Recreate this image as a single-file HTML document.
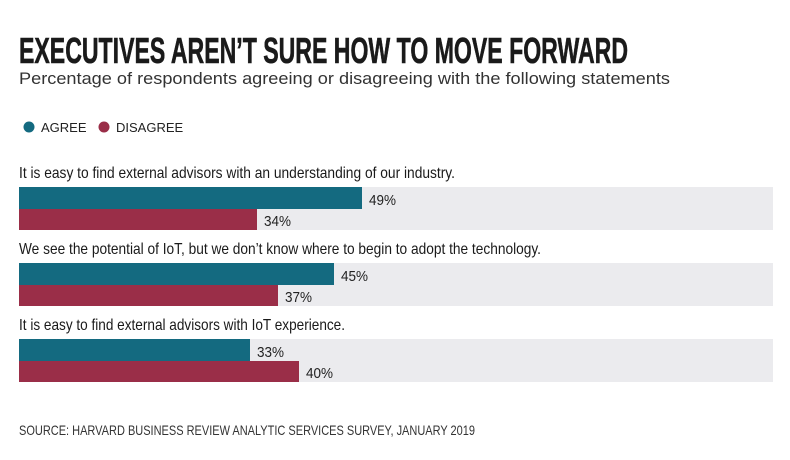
<!DOCTYPE html>
<html><head><meta charset="utf-8"><style>
html,body{margin:0;padding:0;background:#fff;}
svg{display:block;}
text{font-family:"Liberation Sans Narrow","Liberation Sans",sans-serif;}
</style></head><body>
<svg id="chart" width="790" height="460" viewBox="0 0 790 460">
<text x="19" y="63" font-size="36" font-weight="bold" fill="#1a1a1a" stroke="#1a1a1a" stroke-width="0.6" textLength="609" lengthAdjust="spacingAndGlyphs">EXECUTIVES AREN’T SURE HOW TO MOVE FORWARD</text>
<text x="19" y="84" font-size="17" fill="#333" style="font-family:'Liberation Sans',sans-serif" textLength="651" lengthAdjust="spacingAndGlyphs">Percentage of respondents agreeing or disagreeing with the following statements</text>
<g>
<circle cx="29" cy="127" r="5.5" fill="#146a80"/>
<text x="41" y="132" font-size="13" fill="#222" style="font-family:'Liberation Sans',sans-serif">AGREE</text>
<circle cx="104" cy="127" r="5.5" fill="#9a2e48"/>
<text x="116" y="132" font-size="13" fill="#222" style="font-family:'Liberation Sans',sans-serif">DISAGREE</text>
</g>
<g id="bars"></g>
<text x="19" y="435" font-size="14" fill="#333" textLength="456" lengthAdjust="spacingAndGlyphs">SOURCE: HARVARD BUSINESS REVIEW ANALYTIC SERVICES SURVEY, JANUARY 2019</text>
</svg>
<script>
const statements = ["It is easy to find external advisors with an understanding of our industry.","We see the potential of IoT, but we don’t know where to begin to adopt the technology.","It is easy to find external advisors with IoT experience."];
const agreeValues = [49, 45, 33];
const disagreeValues = [34, 37, 40];
const statementWidths = [436, 522, 326];

const NS = "http://www.w3.org/2000/svg";
const x0 = 19, pxPer = 7, trackEnd = 773;
const xScale = v => v * pxPer;
const groupY = i => 187 + i * 76;
const g = document.getElementById('bars');
function mk(tag, attrs){const e=document.createElementNS(NS,tag);for(const k in attrs)e.setAttribute(k,attrs[k]);g.appendChild(e);return e;}
statements.forEach((s,i)=>{
  const y = groupY(i);
  const t = mk('text',{x:x0,y:y-9,'font-size':16,fill:'#1a1a1a',textLength:statementWidths[i],lengthAdjust:'spacingAndGlyphs'});
  t.textContent = s;
  
  
  const tr = mk('rect',{x:x0,y:y,width:trackEnd-x0,height:43,fill:'#ebebee'});
  
  
  const a = mk('rect',{x:x0,y:y,width:xScale(agreeValues[i]),height:22,fill:'#146a80'});
  
  
  const d = mk('rect',{x:x0,y:y+22,width:xScale(disagreeValues[i]),height:21,fill:'#9a2e48'});
  
  
  const la = mk('text',{x:x0+xScale(agreeValues[i])+7,y:y+18,'font-size':15,fill:'#222',textLength:27,lengthAdjust:'spacingAndGlyphs'});
  la.textContent = agreeValues[i]+'%';
  
  
  const ld = mk('text',{x:x0+xScale(disagreeValues[i])+7,y:y+39,'font-size':15,fill:'#222',textLength:27,lengthAdjust:'spacingAndGlyphs'});
  ld.textContent = disagreeValues[i]+'%';
  
  
});
</script>
</body></html>
